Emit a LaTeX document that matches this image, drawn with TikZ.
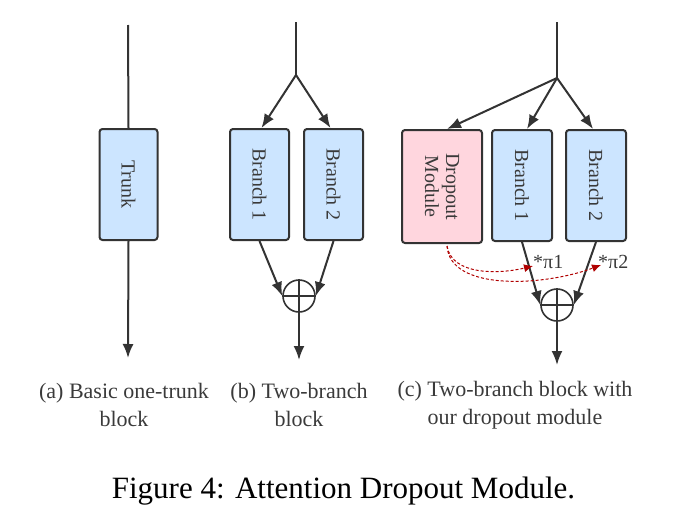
\documentclass[tikz,border=0pt]{standalone}
\usepackage{fontspec}
\setmainfont{Liberation Serif}
\usetikzlibrary{arrows.meta,calc}
\definecolor{dgray}{HTML}{333333}
\definecolor{tgray}{HTML}{3A3A3A}
\definecolor{bblue}{HTML}{CCE5FF}
\definecolor{bpink}{HTML}{FFD6DE}
\definecolor{dred}{HTML}{B00000}
\begin{document}
\begin{tikzpicture}[x=1pt,y=-1pt,
  boxstyle/.style={draw=dgray, line width=2pt, rounded corners=3pt, fill=bblue, inner sep=0pt},
  boxtext/.style={rotate=-90, text=tgray, font=\fontsize{20}{21}\selectfont, align=center, inner sep=0pt},
  wire/.style={draw=dgray, line width=2pt},
  arr/.style={wire, -{Latex[length=14pt,width=11pt]}},
  plusnode/.style={circle, draw=dgray, line width=1.6pt, minimum size=32pt, inner sep=0pt},
  dropline/.style={draw=dred, densely dashed, line width=1pt, -{Latex[length=9pt,width=8pt]}},
  captext/.style={text=tgray, font=\fontsize{22}{28}\selectfont, align=center, inner sep=0pt},
  labtext/.style={text=tgray, font=\fontsize{20}{22}\selectfont, inner sep=0pt}
]
\useasboundingbox (0,0) rectangle (683,509);

% (a)
\coordinate (aTop) at (128,25);
\coordinate (aEnd) at (128,358);
\node[boxstyle, minimum width=58pt, minimum height=111pt] (trunk) at (128.5,184.5) {};
\node[boxtext] (trunkT) at (trunk.center) {Trunk};
\draw[wire] (aTop) -- (trunk.north);
\draw[arr] (trunk.south) -- (aEnd);

% (b)
\coordinate (bTop) at (296,22);
\coordinate (bSplit) at (296,75);
\coordinate (bEnd) at (299,360);
\node[boxstyle, minimum width=59pt, minimum height=111pt] (b1) at (259.5,184.5) {};
\node[boxstyle, minimum width=59pt, minimum height=111pt] (b2) at (333.5,184.5) {};
\node[boxtext] (b1T) at (b1.center) {Branch 1};
\node[boxtext] (b2T) at (b2.center) {Branch 2};
\node[plusnode] (bplus) at (299,296) {};
\draw[dgray, line width=1.6pt] (bplus.north) -- (bplus.south) (bplus.west) -- (bplus.east);
\draw[wire] (bTop) -- (bSplit);
\draw[arr] (bSplit) -- ($(b1.north)+(2,0)$);
\draw[arr] (bSplit) -- ($(b2.north)+(-3,0)$);
\draw[arr] (b1.south) -- (bplus.west);
\draw[arr] (b2.south) -- (bplus.east);
\draw[arr] (bplus.south) -- (bEnd);

% (c)
\coordinate (cTop) at (557,22);
\coordinate (cSplit) at (557,78);
\coordinate (cEnd) at (557,365);
\node[boxstyle, fill=bpink, minimum width=80pt, minimum height=113pt] (dm) at (442,186.5) {};
\node[boxstyle, minimum width=60pt, minimum height=111pt] (c1) at (522,185.5) {};
\node[boxstyle, minimum width=60pt, minimum height=111pt] (c2) at (596,185.5) {};
\node[boxtext] (dmT) at (dm.center) {Dropout\\Module};
\node[boxtext] (c1T) at (c1.center) {Branch 1};
\node[boxtext] (c2T) at (c2.center) {Branch 2};
\node[plusnode] (cplus) at (557,305) {};
\draw[dgray, line width=1.6pt] (cplus.north) -- (cplus.south) (cplus.west) -- (cplus.east);
\draw[wire] (cTop) -- (cSplit);
\draw[arr] (cSplit) -- ($(dm.north)+(5,0)$);
\draw[arr] (cSplit) -- ($(c1.north)+(5,0)$);
\draw[arr] (cSplit) -- ($(c2.north)+(-3,0)$);
\draw[arr] (c1.south) -- (cplus.west);
\draw[arr] (c2.south) -- (cplus.east);
\draw[arr] (cplus.south) -- (cEnd);

\coordinate (dStart) at (447,246);
\coordinate (d1End) at (533,266);
\coordinate (d2End) at (601,265);
\draw[dropline] (dStart) .. controls (452,276) and (500,274) .. (d1End);
\draw[dropline] (dStart) .. controls (450,292) and (545,286) .. (d2End);
\node[labtext, anchor=west] (pi1) at (533,262) {*π1};
\node[labtext, anchor=west] (pi2) at (598,262) {*π2};

% captions
\node[captext] (capA) at (124,405) {(a) Basic one-trunk\\block};
\node[captext] (capB) at (299,405) {(b) Two-branch\\block};
\node[captext] (capC) at (515,405) {(c) Two-branch block with\\our dropout module};
\node[text=black, font=\fontsize{31}{33}\selectfont, inner sep=0pt] (fig) at (343.5,491) {Figure 4: Attention Dropout Module.};
\end{tikzpicture}
\end{document}
